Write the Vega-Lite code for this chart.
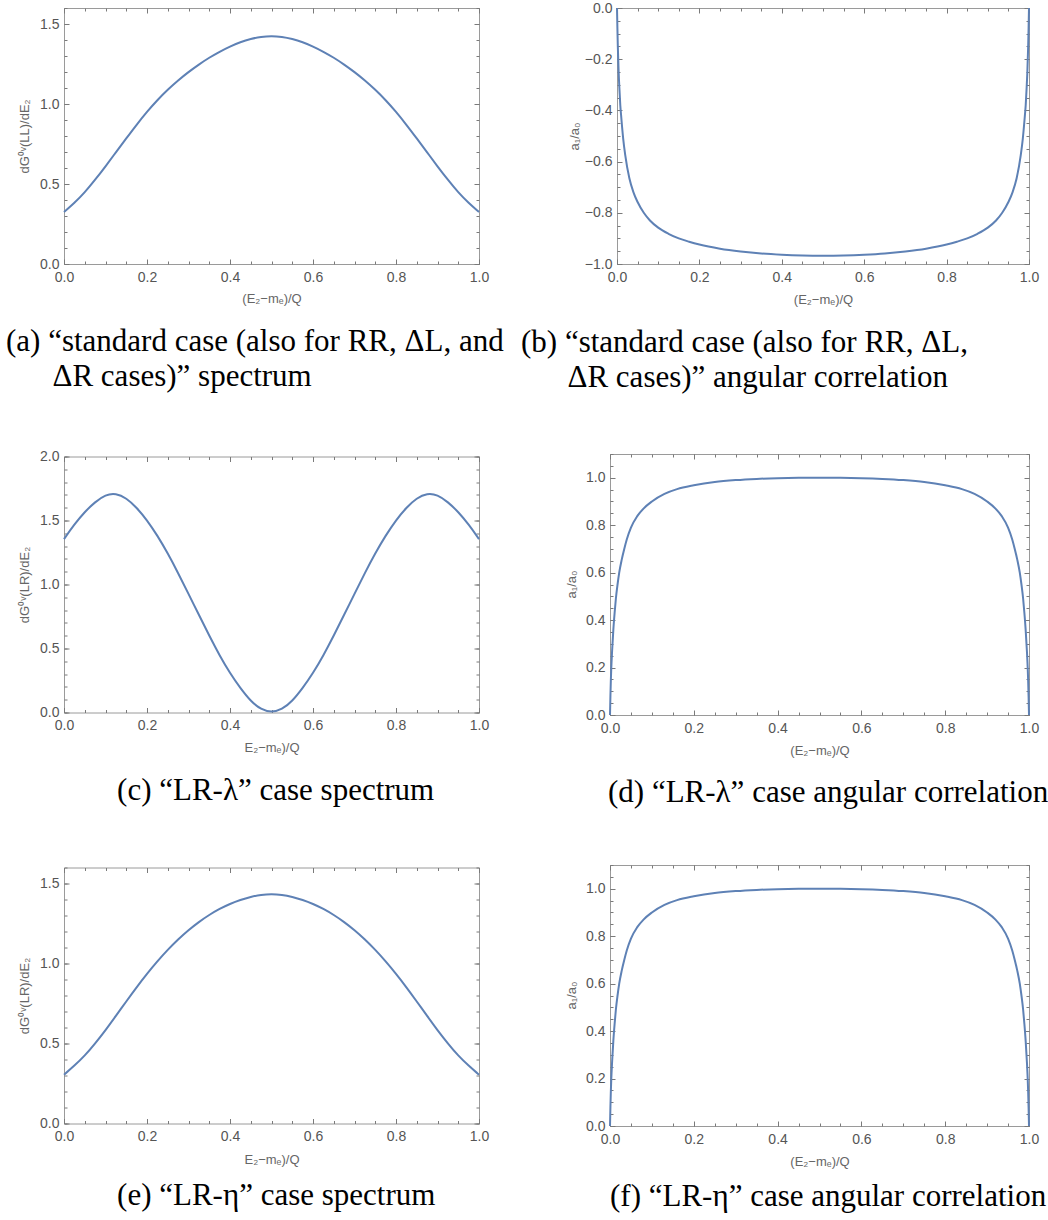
{
  "$schema": "https://vega.github.io/schema/vega-lite/v6.json",
  "background": "white",
  "padding": {"left": 5, "top": 0, "right": 0, "bottom": 0},
  "config": {
    "view": {"stroke": "#9a9a9a", "strokeWidth": 1},
    "axis": {"grid": false, "domain": false, "labelFont": "Liberation Sans", "labelFontSize": 14, "labelColor": "#555555", "tickColor": "#7a7a7a", "tickWidth": 1, "titleFont": "Liberation Sans", "titleFontSize": 13, "titleColor": "#666666", "titleFontWeight": "normal", "labelFlush": false, "labelOverlap": false, "labelBound": false},
    "title": {"font": "Liberation Serif", "fontSize": 31, "fontWeight": "normal", "color": "#000000", "lineHeight": 35}
  },
  "datasets": {
    "a": [{"x":0,"y":0.325},{"x":0.025,"y":0.381},{"x":0.05,"y":0.447},{"x":0.075,"y":0.526},{"x":0.1,"y":0.61},{"x":0.125,"y":0.698},{"x":0.15,"y":0.785},{"x":0.175,"y":0.871},{"x":0.2,"y":0.952},{"x":0.225,"y":1.025},{"x":0.25,"y":1.09},{"x":0.275,"y":1.148},{"x":0.3,"y":1.2},{"x":0.325,"y":1.247},{"x":0.35,"y":1.29},{"x":0.375,"y":1.327},{"x":0.4,"y":1.36},{"x":0.425,"y":1.387},{"x":0.45,"y":1.407},{"x":0.475,"y":1.42},{"x":0.5,"y":1.425},{"x":0.525,"y":1.42},{"x":0.55,"y":1.407},{"x":0.575,"y":1.387},{"x":0.6,"y":1.36},{"x":0.625,"y":1.327},{"x":0.65,"y":1.29},{"x":0.675,"y":1.247},{"x":0.7,"y":1.2},{"x":0.725,"y":1.148},{"x":0.75,"y":1.09},{"x":0.775,"y":1.025},{"x":0.8,"y":0.952},{"x":0.825,"y":0.871},{"x":0.85,"y":0.785},{"x":0.875,"y":0.698},{"x":0.9,"y":0.61},{"x":0.925,"y":0.526},{"x":0.95,"y":0.447},{"x":0.975,"y":0.381},{"x":1,"y":0.325}],
    "b": [{"x":0,"y":0},{"x":0.001,"y":-0.08},{"x":0.002,"y":-0.15},{"x":0.004,"y":-0.25},{"x":0.006,"y":-0.32},{"x":0.008,"y":-0.38},{"x":0.01,"y":-0.42},{"x":0.015,"y":-0.51},{"x":0.02,"y":-0.575},{"x":0.03,"y":-0.665},{"x":0.04,"y":-0.72},{"x":0.05,"y":-0.758},{"x":0.065,"y":-0.8},{"x":0.08,"y":-0.83},{"x":0.1,"y":-0.858},{"x":0.125,"y":-0.882},{"x":0.15,"y":-0.9},{"x":0.175,"y":-0.913},{"x":0.2,"y":-0.924},{"x":0.25,"y":-0.94},{"x":0.3,"y":-0.951},{"x":0.35,"y":-0.959},{"x":0.4,"y":-0.964},{"x":0.45,"y":-0.967},{"x":0.5,"y":-0.968},{"x":0.55,"y":-0.967},{"x":0.6,"y":-0.964},{"x":0.65,"y":-0.959},{"x":0.7,"y":-0.951},{"x":0.75,"y":-0.94},{"x":0.8,"y":-0.924},{"x":0.825,"y":-0.913},{"x":0.85,"y":-0.9},{"x":0.875,"y":-0.882},{"x":0.9,"y":-0.858},{"x":0.92,"y":-0.83},{"x":0.935,"y":-0.8},{"x":0.95,"y":-0.758},{"x":0.96,"y":-0.72},{"x":0.97,"y":-0.665},{"x":0.98,"y":-0.575},{"x":0.985,"y":-0.51},{"x":0.99,"y":-0.42},{"x":0.992,"y":-0.38},{"x":0.994,"y":-0.32},{"x":0.996,"y":-0.25},{"x":0.998,"y":-0.15},{"x":0.999,"y":-0.08},{"x":1,"y":0}],
    "c": [{"x":0,"y":1.355},{"x":0.025,"y":1.47},{"x":0.05,"y":1.568},{"x":0.075,"y":1.645},{"x":0.1,"y":1.702},{"x":0.125,"y":1.713},{"x":0.15,"y":1.676},{"x":0.175,"y":1.602},{"x":0.2,"y":1.503},{"x":0.225,"y":1.383},{"x":0.25,"y":1.244},{"x":0.275,"y":1.09},{"x":0.3,"y":0.927},{"x":0.325,"y":0.763},{"x":0.35,"y":0.6},{"x":0.375,"y":0.445},{"x":0.4,"y":0.307},{"x":0.425,"y":0.19},{"x":0.45,"y":0.088},{"x":0.475,"y":0.022},{"x":0.5,"y":0},{"x":0.525,"y":0.022},{"x":0.55,"y":0.088},{"x":0.575,"y":0.19},{"x":0.6,"y":0.307},{"x":0.625,"y":0.445},{"x":0.65,"y":0.6},{"x":0.675,"y":0.763},{"x":0.7,"y":0.927},{"x":0.725,"y":1.09},{"x":0.75,"y":1.244},{"x":0.775,"y":1.383},{"x":0.8,"y":1.503},{"x":0.825,"y":1.602},{"x":0.85,"y":1.676},{"x":0.875,"y":1.713},{"x":0.9,"y":1.702},{"x":0.925,"y":1.645},{"x":0.95,"y":1.568},{"x":0.975,"y":1.47},{"x":1,"y":1.355}],
    "d": [{"x":0,"y":0},{"x":0.001,"y":0.08},{"x":0.002,"y":0.145},{"x":0.003,"y":0.195},{"x":0.005,"y":0.27},{"x":0.008,"y":0.36},{"x":0.011,"y":0.43},{"x":0.014,"y":0.49},{"x":0.018,"y":0.55},{"x":0.022,"y":0.6},{"x":0.028,"y":0.655},{"x":0.034,"y":0.7},{"x":0.04,"y":0.74},{"x":0.05,"y":0.79},{"x":0.065,"y":0.838},{"x":0.08,"y":0.87},{"x":0.1,"y":0.9},{"x":0.13,"y":0.932},{"x":0.16,"y":0.952},{"x":0.2,"y":0.968},{"x":0.25,"y":0.982},{"x":0.3,"y":0.99},{"x":0.35,"y":0.995},{"x":0.4,"y":0.998},{"x":0.45,"y":0.9995},{"x":0.5,"y":1},{"x":0.55,"y":0.9995},{"x":0.6,"y":0.998},{"x":0.65,"y":0.995},{"x":0.7,"y":0.99},{"x":0.75,"y":0.982},{"x":0.8,"y":0.968},{"x":0.84,"y":0.952},{"x":0.87,"y":0.932},{"x":0.9,"y":0.9},{"x":0.92,"y":0.87},{"x":0.935,"y":0.838},{"x":0.95,"y":0.79},{"x":0.96,"y":0.74},{"x":0.966,"y":0.7},{"x":0.972,"y":0.655},{"x":0.978,"y":0.6},{"x":0.982,"y":0.55},{"x":0.986,"y":0.49},{"x":0.989,"y":0.43},{"x":0.992,"y":0.36},{"x":0.995,"y":0.27},{"x":0.997,"y":0.195},{"x":0.998,"y":0.145},{"x":0.999,"y":0.08},{"x":1,"y":0}],
    "e": [{"x":0,"y":0.305},{"x":0.025,"y":0.361},{"x":0.05,"y":0.423},{"x":0.075,"y":0.5},{"x":0.1,"y":0.583},{"x":0.125,"y":0.672},{"x":0.15,"y":0.763},{"x":0.175,"y":0.852},{"x":0.2,"y":0.936},{"x":0.225,"y":1.014},{"x":0.25,"y":1.086},{"x":0.275,"y":1.151},{"x":0.3,"y":1.209},{"x":0.325,"y":1.26},{"x":0.35,"y":1.304},{"x":0.375,"y":1.342},{"x":0.4,"y":1.373},{"x":0.425,"y":1.398},{"x":0.45,"y":1.417},{"x":0.475,"y":1.43},{"x":0.5,"y":1.435},{"x":0.525,"y":1.43},{"x":0.55,"y":1.417},{"x":0.575,"y":1.398},{"x":0.6,"y":1.373},{"x":0.625,"y":1.342},{"x":0.65,"y":1.304},{"x":0.675,"y":1.26},{"x":0.7,"y":1.209},{"x":0.725,"y":1.151},{"x":0.75,"y":1.086},{"x":0.775,"y":1.014},{"x":0.8,"y":0.936},{"x":0.825,"y":0.852},{"x":0.85,"y":0.763},{"x":0.875,"y":0.672},{"x":0.9,"y":0.583},{"x":0.925,"y":0.5},{"x":0.95,"y":0.423},{"x":0.975,"y":0.361},{"x":1,"y":0.305}],
    "f": [{"x":0,"y":0},{"x":0.001,"y":0.08},{"x":0.002,"y":0.145},{"x":0.003,"y":0.195},{"x":0.005,"y":0.27},{"x":0.008,"y":0.36},{"x":0.011,"y":0.43},{"x":0.014,"y":0.49},{"x":0.018,"y":0.55},{"x":0.022,"y":0.6},{"x":0.028,"y":0.655},{"x":0.034,"y":0.7},{"x":0.04,"y":0.74},{"x":0.05,"y":0.79},{"x":0.065,"y":0.838},{"x":0.08,"y":0.87},{"x":0.1,"y":0.9},{"x":0.13,"y":0.932},{"x":0.16,"y":0.952},{"x":0.2,"y":0.968},{"x":0.25,"y":0.982},{"x":0.3,"y":0.99},{"x":0.35,"y":0.995},{"x":0.4,"y":0.998},{"x":0.45,"y":0.9995},{"x":0.5,"y":1},{"x":0.55,"y":0.9995},{"x":0.6,"y":0.998},{"x":0.65,"y":0.995},{"x":0.7,"y":0.99},{"x":0.75,"y":0.982},{"x":0.8,"y":0.968},{"x":0.84,"y":0.952},{"x":0.87,"y":0.932},{"x":0.9,"y":0.9},{"x":0.92,"y":0.87},{"x":0.935,"y":0.838},{"x":0.95,"y":0.79},{"x":0.96,"y":0.74},{"x":0.966,"y":0.7},{"x":0.972,"y":0.655},{"x":0.978,"y":0.6},{"x":0.982,"y":0.55},{"x":0.986,"y":0.49},{"x":0.989,"y":0.43},{"x":0.992,"y":0.36},{"x":0.995,"y":0.27},{"x":0.997,"y":0.195},{"x":0.998,"y":0.145},{"x":0.999,"y":0.08},{"x":1,"y":0}]
  },
  "spacing": 55,
  "vconcat": [
    {
      "hconcat": [
        {
          "width": 415, "height": 256,
          "data": {"name": "a"},
          "title": {"text": ["(a) “standard case (also for RR, ΔL, and", "\u200B\u2003\u2005\u2005ΔR cases)” spectrum"], "orient": "bottom", "anchor": "start", "frame": "group", "dx": -58, "offset": 22},
          "layer": [
            {"mark": {"type": "line", "color": "#5e81b5", "strokeWidth": 2, "interpolate": "basis"},
             "encoding": {
               "x": {"field": "x", "type": "quantitative", "scale": {"domain": [0, 1], "nice": false}, "axis": {"orient": "bottom", "values": [0, 0.2, 0.4, 0.6, 0.8, 1], "format": ".1f", "tickSize": -5, "labelPadding": 11, "title": "(E₂−mₑ)/Q", "titleY": 34, "titleBaseline": "middle"}},
               "y": {"field": "y", "type": "quantitative", "scale": {"domain": [0, 1.6], "nice": false, "zero": false}, "axis": {"orient": "left", "values": [0, 0.5, 1, 1.5], "format": ".1f", "tickSize": -5, "labelPadding": 10, "title": "dG⁰ᵛ(LL)/dE₂", "titleX": -40, "titleY": 128, "titleBaseline": "middle", "titleAngle": -90, "titleAlign": "center"}}
             }},
            {"mark": {"type": "line", "opacity": 0},
             "encoding": {
               "x": {"field": "x", "type": "quantitative", "axis": {"orient": "top", "values": [0, 0.2, 0.4, 0.6, 0.8, 1], "tickSize": -5, "labels": false, "title": null}},
               "y": {"field": "y", "type": "quantitative", "axis": {"orient": "right", "values": [0, 0.5, 1, 1.5], "tickSize": -5, "labels": false, "title": null}}
             }},
            {"mark": {"type": "line", "opacity": 0},
             "encoding": {
               "x": {"field": "x", "type": "quantitative", "axis": {"orient": "bottom", "values": [0,0.05,0.1,0.15,0.2,0.25,0.3,0.35,0.4,0.45,0.5,0.55,0.6,0.65,0.7,0.75,0.8,0.85,0.9,0.95,1], "tickSize": -3, "labels": false, "title": null}},
               "y": {"field": "y", "type": "quantitative", "axis": {"orient": "left", "values": [0,0.1,0.2,0.3,0.4,0.5,0.6,0.7,0.8,0.9,1,1.1,1.2,1.3,1.4,1.5,1.6], "tickSize": -3, "labels": false, "title": null}}
             }},
            {"mark": {"type": "line", "opacity": 0},
             "encoding": {
               "x": {"field": "x", "type": "quantitative", "axis": {"orient": "top", "values": [0,0.05,0.1,0.15,0.2,0.25,0.3,0.35,0.4,0.45,0.5,0.55,0.6,0.65,0.7,0.75,0.8,0.85,0.9,0.95,1], "tickSize": -3, "labels": false, "title": null}},
               "y": {"field": "y", "type": "quantitative", "axis": {"orient": "right", "values": [0,0.1,0.2,0.3,0.4,0.5,0.6,0.7,0.8,0.9,1,1.1,1.2,1.3,1.4,1.5,1.6], "tickSize": -3, "labels": false, "title": null}}
             }}
          ],
          "resolve": {"axis": {"x": "independent", "y": "independent"}}
        },
        {
          "width": 412, "height": 256,
          "data": {"name": "b"},
          "title": {"text": ["(b) “standard case (also for RR, ΔL,", "\u200B\u2003\u2005\u2005ΔR cases)” angular correlation"], "orient": "bottom", "anchor": "start", "frame": "group", "dx": -96, "offset": 22},
          "layer": [
            {"mark": {"type": "line", "color": "#5e81b5", "strokeWidth": 2, "interpolate": "monotone"},
             "encoding": {
               "x": {"field": "x", "type": "quantitative", "scale": {"domain": [0, 1], "nice": false}, "axis": {"orient": "bottom", "values": [0, 0.2, 0.4, 0.6, 0.8, 1], "format": ".1f", "tickSize": -5, "labelPadding": 11, "title": "(E₂−mₑ)/Q", "titleY": 35, "titleBaseline": "middle"}},
               "y": {"field": "y", "type": "quantitative", "scale": {"domain": [-1, 0], "nice": false, "zero": false}, "axis": {"orient": "left", "values": [-1, -0.8, -0.6, -0.4, -0.2, 0], "format": ".1f", "tickSize": -5, "labelPadding": 10, "title": "a₁/a₀", "titleX": -43, "titleY": 128, "titleBaseline": "middle", "titleAngle": -90, "titleAlign": "center"}}
             }},
            {"mark": {"type": "line", "opacity": 0},
             "encoding": {
               "x": {"field": "x", "type": "quantitative", "axis": {"orient": "top", "values": [0, 0.2, 0.4, 0.6, 0.8, 1], "tickSize": -5, "labels": false, "title": null}},
               "y": {"field": "y", "type": "quantitative", "axis": {"orient": "right", "values": [-1, -0.8, -0.6, -0.4, -0.2, 0], "tickSize": -5, "labels": false, "title": null}}
             }},
            {"mark": {"type": "line", "opacity": 0},
             "encoding": {
               "x": {"field": "x", "type": "quantitative", "axis": {"orient": "bottom", "values": [0,0.05,0.1,0.15,0.2,0.25,0.3,0.35,0.4,0.45,0.5,0.55,0.6,0.65,0.7,0.75,0.8,0.85,0.9,0.95,1], "tickSize": -3, "labels": false, "title": null}},
               "y": {"field": "y", "type": "quantitative", "axis": {"orient": "left", "values": [-1,-0.95,-0.9,-0.85,-0.8,-0.75,-0.7,-0.65,-0.6,-0.55,-0.5,-0.45,-0.4,-0.35,-0.3,-0.25,-0.2,-0.15,-0.1,-0.05,0], "tickSize": -3, "labels": false, "title": null}}
             }},
            {"mark": {"type": "line", "opacity": 0},
             "encoding": {
               "x": {"field": "x", "type": "quantitative", "axis": {"orient": "top", "values": [0,0.05,0.1,0.15,0.2,0.25,0.3,0.35,0.4,0.45,0.5,0.55,0.6,0.65,0.7,0.75,0.8,0.85,0.9,0.95,1], "tickSize": -3, "labels": false, "title": null}},
               "y": {"field": "y", "type": "quantitative", "axis": {"orient": "right", "values": [-1,-0.95,-0.9,-0.85,-0.8,-0.75,-0.7,-0.65,-0.6,-0.55,-0.5,-0.45,-0.4,-0.35,-0.3,-0.25,-0.2,-0.15,-0.1,-0.05,0], "tickSize": -3, "labels": false, "title": null}}
             }}
          ],
          "resolve": {"axis": {"x": "independent", "y": "independent"}}
        }
      ],
      "spacing": 138, "bounds": "flush", "center": true
    },
    {
      "hconcat": [
        {
          "width": 415, "height": 256,
          "data": {"name": "c"},
          "title": {"text": "\u200B\u2003\u2003\u2003\u2004\u2005(c) “LR-λ” case spectrum", "orient": "bottom", "anchor": "start", "frame": "group", "dx": -58, "offset": 21},
          "layer": [
            {"mark": {"type": "line", "color": "#5e81b5", "strokeWidth": 2, "interpolate": "basis"},
             "encoding": {
               "x": {"field": "x", "type": "quantitative", "scale": {"domain": [0, 1], "nice": false}, "axis": {"orient": "bottom", "values": [0, 0.2, 0.4, 0.6, 0.8, 1], "format": ".1f", "tickSize": -5, "labelPadding": 11, "title": "E₂−mₑ)/Q", "titleY": 35, "titleBaseline": "middle"}},
               "y": {"field": "y", "type": "quantitative", "scale": {"domain": [0, 2], "nice": false, "zero": false}, "axis": {"orient": "left", "values": [0, 0.5, 1, 1.5, 2], "format": ".1f", "tickSize": -5, "labelPadding": 10, "title": "dG⁰ᵛ(LR)/dE₂", "titleX": -40, "titleY": 128, "titleBaseline": "middle", "titleAngle": -90, "titleAlign": "center"}}
             }},
            {"mark": {"type": "line", "opacity": 0},
             "encoding": {
               "x": {"field": "x", "type": "quantitative", "axis": {"orient": "top", "values": [0, 0.2, 0.4, 0.6, 0.8, 1], "tickSize": -5, "labels": false, "title": null}},
               "y": {"field": "y", "type": "quantitative", "axis": {"orient": "right", "values": [0, 0.5, 1, 1.5, 2], "tickSize": -5, "labels": false, "title": null}}
             }},
            {"mark": {"type": "line", "opacity": 0},
             "encoding": {
               "x": {"field": "x", "type": "quantitative", "axis": {"orient": "bottom", "values": [0,0.05,0.1,0.15,0.2,0.25,0.3,0.35,0.4,0.45,0.5,0.55,0.6,0.65,0.7,0.75,0.8,0.85,0.9,0.95,1], "tickSize": -3, "labels": false, "title": null}},
               "y": {"field": "y", "type": "quantitative", "axis": {"orient": "left", "values": [0,0.1,0.2,0.3,0.4,0.5,0.6,0.7,0.8,0.9,1,1.1,1.2,1.3,1.4,1.5,1.6,1.7,1.8,1.9,2], "tickSize": -3, "labels": false, "title": null}}
             }},
            {"mark": {"type": "line", "opacity": 0},
             "encoding": {
               "x": {"field": "x", "type": "quantitative", "axis": {"orient": "top", "values": [0,0.05,0.1,0.15,0.2,0.25,0.3,0.35,0.4,0.45,0.5,0.55,0.6,0.65,0.7,0.75,0.8,0.85,0.9,0.95,1], "tickSize": -3, "labels": false, "title": null}},
               "y": {"field": "y", "type": "quantitative", "axis": {"orient": "right", "values": [0,0.1,0.2,0.3,0.4,0.5,0.6,0.7,0.8,0.9,1,1.1,1.2,1.3,1.4,1.5,1.6,1.7,1.8,1.9,2], "tickSize": -3, "labels": false, "title": null}}
             }}
          ],
          "resolve": {"axis": {"x": "independent", "y": "independent"}}
        },
        {
          "width": 419, "height": 261,
          "data": {"name": "d"},
          "title": {"text": "(d) “LR-λ” case angular correlation", "orient": "bottom", "anchor": "start", "frame": "group", "dx": -2, "offset": 21},
          "layer": [
            {"mark": {"type": "line", "color": "#5e81b5", "strokeWidth": 2, "interpolate": "monotone"},
             "encoding": {
               "x": {"field": "x", "type": "quantitative", "scale": {"domain": [0, 1], "nice": false}, "axis": {"orient": "bottom", "values": [0, 0.2, 0.4, 0.6, 0.8, 1], "format": ".1f", "tickSize": -5, "labelPadding": 11, "title": "(E₂−mₑ)/Q", "titleY": 35, "titleBaseline": "middle"}},
               "y": {"field": "y", "type": "quantitative", "scale": {"domain": [0, 1.1], "nice": false, "zero": false}, "axis": {"orient": "left", "values": [0, 0.2, 0.4, 0.6, 0.8, 1], "format": ".1f", "tickSize": -5, "labelPadding": 10, "title": "a₁/a₀", "titleX": -39, "titleY": 130, "titleBaseline": "middle", "titleAngle": -90, "titleAlign": "center"}}
             }},
            {"mark": {"type": "line", "opacity": 0},
             "encoding": {
               "x": {"field": "x", "type": "quantitative", "axis": {"orient": "top", "values": [0, 0.2, 0.4, 0.6, 0.8, 1], "tickSize": -5, "labels": false, "title": null}},
               "y": {"field": "y", "type": "quantitative", "axis": {"orient": "right", "values": [0, 0.2, 0.4, 0.6, 0.8, 1], "tickSize": -5, "labels": false, "title": null}}
             }},
            {"mark": {"type": "line", "opacity": 0},
             "encoding": {
               "x": {"field": "x", "type": "quantitative", "axis": {"orient": "bottom", "values": [0,0.05,0.1,0.15,0.2,0.25,0.3,0.35,0.4,0.45,0.5,0.55,0.6,0.65,0.7,0.75,0.8,0.85,0.9,0.95,1], "tickSize": -3, "labels": false, "title": null}},
               "y": {"field": "y", "type": "quantitative", "axis": {"orient": "left", "values": [0,0.05,0.1,0.15,0.2,0.25,0.3,0.35,0.4,0.45,0.5,0.55,0.6,0.65,0.7,0.75,0.8,0.85,0.9,0.95,1,1.05,1.1], "tickSize": -3, "labels": false, "title": null}}
             }},
            {"mark": {"type": "line", "opacity": 0},
             "encoding": {
               "x": {"field": "x", "type": "quantitative", "axis": {"orient": "top", "values": [0,0.05,0.1,0.15,0.2,0.25,0.3,0.35,0.4,0.45,0.5,0.55,0.6,0.65,0.7,0.75,0.8,0.85,0.9,0.95,1], "tickSize": -3, "labels": false, "title": null}},
               "y": {"field": "y", "type": "quantitative", "axis": {"orient": "right", "values": [0,0.05,0.1,0.15,0.2,0.25,0.3,0.35,0.4,0.45,0.5,0.55,0.6,0.65,0.7,0.75,0.8,0.85,0.9,0.95,1,1.05,1.1], "tickSize": -3, "labels": false, "title": null}}
             }}
          ],
          "resolve": {"axis": {"x": "independent", "y": "independent"}}
        }
      ],
      "spacing": 131, "bounds": "flush", "center": true
    },
    {
      "hconcat": [
        {
          "width": 415, "height": 256,
          "data": {"name": "e"},
          "title": {"text": "\u200B\u2003\u2003\u2003\u2004\u2005(e) “LR-η” case spectrum", "orient": "bottom", "anchor": "start", "frame": "group", "dx": -58, "offset": 14},
          "layer": [
            {"mark": {"type": "line", "color": "#5e81b5", "strokeWidth": 2, "interpolate": "basis"},
             "encoding": {
               "x": {"field": "x", "type": "quantitative", "scale": {"domain": [0, 1], "nice": false}, "axis": {"orient": "bottom", "values": [0, 0.2, 0.4, 0.6, 0.8, 1], "format": ".1f", "tickSize": -5, "labelPadding": 11, "title": "E₂−mₑ)/Q", "titleY": 36, "titleBaseline": "middle"}},
               "y": {"field": "y", "type": "quantitative", "scale": {"domain": [0, 1.6], "nice": false, "zero": false}, "axis": {"orient": "left", "values": [0, 0.5, 1, 1.5], "format": ".1f", "tickSize": -5, "labelPadding": 10, "title": "dG⁰ᵛ(LR)/dE₂", "titleX": -40, "titleY": 128, "titleBaseline": "middle", "titleAngle": -90, "titleAlign": "center"}}
             }},
            {"mark": {"type": "line", "opacity": 0},
             "encoding": {
               "x": {"field": "x", "type": "quantitative", "axis": {"orient": "top", "values": [0, 0.2, 0.4, 0.6, 0.8, 1], "tickSize": -5, "labels": false, "title": null}},
               "y": {"field": "y", "type": "quantitative", "axis": {"orient": "right", "values": [0, 0.5, 1, 1.5], "tickSize": -5, "labels": false, "title": null}}
             }},
            {"mark": {"type": "line", "opacity": 0},
             "encoding": {
               "x": {"field": "x", "type": "quantitative", "axis": {"orient": "bottom", "values": [0,0.05,0.1,0.15,0.2,0.25,0.3,0.35,0.4,0.45,0.5,0.55,0.6,0.65,0.7,0.75,0.8,0.85,0.9,0.95,1], "tickSize": -3, "labels": false, "title": null}},
               "y": {"field": "y", "type": "quantitative", "axis": {"orient": "left", "values": [0,0.1,0.2,0.3,0.4,0.5,0.6,0.7,0.8,0.9,1,1.1,1.2,1.3,1.4,1.5,1.6], "tickSize": -3, "labels": false, "title": null}}
             }},
            {"mark": {"type": "line", "opacity": 0},
             "encoding": {
               "x": {"field": "x", "type": "quantitative", "axis": {"orient": "top", "values": [0,0.05,0.1,0.15,0.2,0.25,0.3,0.35,0.4,0.45,0.5,0.55,0.6,0.65,0.7,0.75,0.8,0.85,0.9,0.95,1], "tickSize": -3, "labels": false, "title": null}},
               "y": {"field": "y", "type": "quantitative", "axis": {"orient": "right", "values": [0,0.1,0.2,0.3,0.4,0.5,0.6,0.7,0.8,0.9,1,1.1,1.2,1.3,1.4,1.5,1.6], "tickSize": -3, "labels": false, "title": null}}
             }}
          ],
          "resolve": {"axis": {"x": "independent", "y": "independent"}}
        },
        {
          "width": 419, "height": 261,
          "data": {"name": "f"},
          "title": {"text": "(f) “LR-η” case angular correlation", "orient": "bottom", "anchor": "start", "frame": "group", "dx": 0, "offset": 14},
          "layer": [
            {"mark": {"type": "line", "color": "#5e81b5", "strokeWidth": 2, "interpolate": "monotone"},
             "encoding": {
               "x": {"field": "x", "type": "quantitative", "scale": {"domain": [0, 1], "nice": false}, "axis": {"orient": "bottom", "values": [0, 0.2, 0.4, 0.6, 0.8, 1], "format": ".1f", "tickSize": -5, "labelPadding": 11, "title": "(E₂−mₑ)/Q", "titleY": 35, "titleBaseline": "middle"}},
               "y": {"field": "y", "type": "quantitative", "scale": {"domain": [0, 1.1], "nice": false, "zero": false}, "axis": {"orient": "left", "values": [0, 0.2, 0.4, 0.6, 0.8, 1], "format": ".1f", "tickSize": -5, "labelPadding": 10, "title": "a₁/a₀", "titleX": -39, "titleY": 130, "titleBaseline": "middle", "titleAngle": -90, "titleAlign": "center"}}
             }},
            {"mark": {"type": "line", "opacity": 0},
             "encoding": {
               "x": {"field": "x", "type": "quantitative", "axis": {"orient": "top", "values": [0, 0.2, 0.4, 0.6, 0.8, 1], "tickSize": -5, "labels": false, "title": null}},
               "y": {"field": "y", "type": "quantitative", "axis": {"orient": "right", "values": [0, 0.2, 0.4, 0.6, 0.8, 1], "tickSize": -5, "labels": false, "title": null}}
             }},
            {"mark": {"type": "line", "opacity": 0},
             "encoding": {
               "x": {"field": "x", "type": "quantitative", "axis": {"orient": "bottom", "values": [0,0.05,0.1,0.15,0.2,0.25,0.3,0.35,0.4,0.45,0.5,0.55,0.6,0.65,0.7,0.75,0.8,0.85,0.9,0.95,1], "tickSize": -3, "labels": false, "title": null}},
               "y": {"field": "y", "type": "quantitative", "axis": {"orient": "left", "values": [0,0.05,0.1,0.15,0.2,0.25,0.3,0.35,0.4,0.45,0.5,0.55,0.6,0.65,0.7,0.75,0.8,0.85,0.9,0.95,1,1.05,1.1], "tickSize": -3, "labels": false, "title": null}}
             }},
            {"mark": {"type": "line", "opacity": 0},
             "encoding": {
               "x": {"field": "x", "type": "quantitative", "axis": {"orient": "top", "values": [0,0.05,0.1,0.15,0.2,0.25,0.3,0.35,0.4,0.45,0.5,0.55,0.6,0.65,0.7,0.75,0.8,0.85,0.9,0.95,1], "tickSize": -3, "labels": false, "title": null}},
               "y": {"field": "y", "type": "quantitative", "axis": {"orient": "right", "values": [0,0.05,0.1,0.15,0.2,0.25,0.3,0.35,0.4,0.45,0.5,0.55,0.6,0.65,0.7,0.75,0.8,0.85,0.9,0.95,1,1.05,1.1], "tickSize": -3, "labels": false, "title": null}}
             }}
          ],
          "resolve": {"axis": {"x": "independent", "y": "independent"}}
        }
      ],
      "spacing": 131, "bounds": "flush", "center": true
    }
  ]
}
